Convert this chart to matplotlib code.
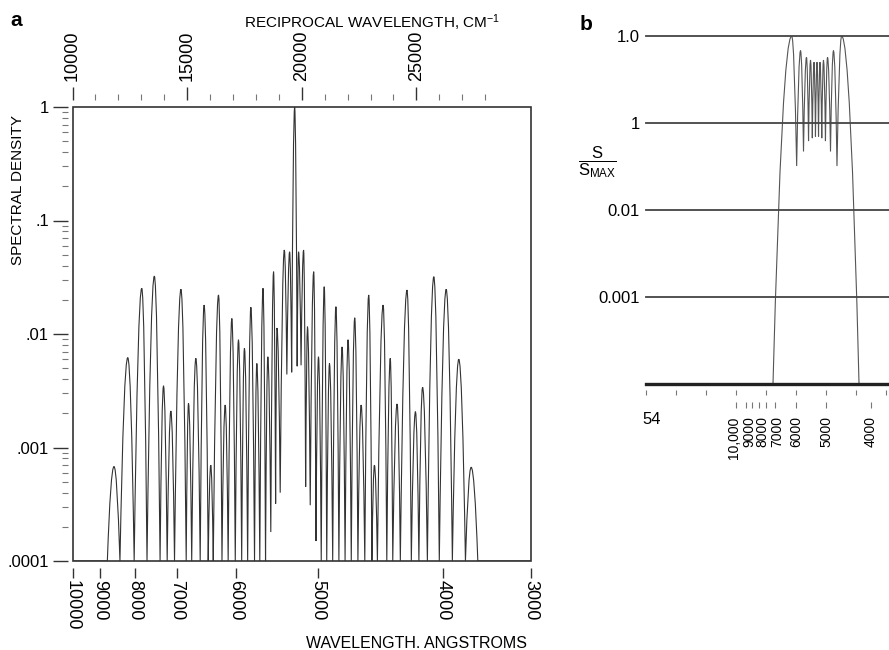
import matplotlib

matplotlib.use("Agg")
import matplotlib.pyplot as plt
from matplotlib.patches import PathPatch, Rectangle
from matplotlib.path import Path
from matplotlib.ticker import NullFormatter, NullLocator
from matplotlib.transforms import ScaledTranslation

plt.rcParams["font.family"] = ["Liberation Sans", "DejaVu Sans"]
plt.rcParams["mathtext.fontset"] = "custom"
plt.rcParams["mathtext.rm"] = "Liberation Sans"
plt.rcParams["mathtext.it"] = "Liberation Sans:italic"
plt.rcParams["mathtext.bf"] = "Liberation Sans:bold"

INK = "#333333"

# ---- panel a: spectral density vs reciprocal wavelength (cm^-1) ----
A_PEAK_WN = [11810, 12410, 13020, 13570, 13970, 14290, 14730, 15060, 15380, 15740,
             16030, 16370, 16660, 16950, 17240, 17500, 17780, 18040, 18310, 18520,
             18770, 18920, 19240, 19470, 19690, 19860, 20080, 20250, 20520, 20730,
             20980, 21210, 21490, 21760, 22020, 22310, 22590, 22920, 23170, 23550,
             23860, 24160, 24590, 24960, 25270, 25760, 26300, 26850, 27390]
A_PEAK_VAL = [6.8e-4, 6.2e-3, 0.0253, 0.0324, 3.5e-3, 2.1e-3, 0.0248, 2.45e-3, 6.1e-3, 0.018,
              7.0e-4, 0.0221, 2.37e-3, 0.0137, 8.9e-3, 7.5e-3, 0.0172, 5.5e-3, 0.0253, 6.3e-3,
              0.0354, 0.0113, 0.055, 0.053, 1.0, 0.053, 0.055, 0.0116, 0.0354, 6.3e-3,
              0.0261, 5.5e-3, 0.0174, 7.7e-3, 8.9e-3, 0.0139, 2.37e-3, 0.0221, 7.0e-4, 0.018,
              6.1e-3, 2.42e-3, 0.0244, 2.07e-3, 3.4e-3, 0.032, 0.0248, 6.0e-3, 6.7e-4]
# zeros / dips between neighbouring lobes
A_EDGE_WN = [11520, 12070, 12690, 13250, 13820, 14130, 14450, 14960, 15200, 15570,
             15920, 16140, 16520, 16790, 17100, 17380, 17640, 17940, 18170, 18420,
             18650, 18860, 19060, 19350, 19560, 19800, 19970, 20170, 20370, 20620,
             20850, 21090, 21350, 21620, 21890, 22160, 22450, 22750, 23060, 23300,
             23710, 23970, 24300, 24780, 25110, 25480, 26000, 26570, 27140, 27680]
A_EDGE_VAL = [1e-4, 1e-4, 1e-4, 1e-4, 1e-4, 1e-4, 1e-4, 1e-4, 1e-4, 1e-4,
              1e-4, 1e-4, 1e-4, 1e-4, 1e-4, 1e-4, 1e-4, 1e-4, 1e-4, 1e-4,
              1.8e-4, 3.2e-4, 4.0e-4, 4.4e-3, 4.6e-3, 5.2e-3, 5.3e-3, 4.5e-4, 3.1e-4, 1.5e-4,
              1e-4, 1e-4, 1e-4, 1e-4, 1e-4, 1e-4, 1e-4, 1e-4, 1e-4, 1e-4,
              1e-4, 1e-4, 1e-4, 1e-4, 1e-4, 1e-4, 1e-4, 1e-4, 1e-4, 1e-4]

A_TOP_MAJOR = [10000, 15000, 20000, 25000]
A_TOP_MINOR = [11000, 12000, 13000, 14000, 16000, 17000, 18000, 19000,
               21000, 22000, 23000, 24000, 26000, 27000, 28000]
A_BOTTOM_LABELS = ["10000", "9000", "8000", "7000", "6000", "5000", "4000", "3000"]
A_BOTTOM_POS = [10000, 11200, 12730, 14550, 17130, 20720, 26170, 30000]
A_Y_TICKS = [1, 0.1, 0.01, 0.001, 0.0001]
A_Y_LABELS = ["1", ".1", ".01", ".001", ".0001"]

# ---- panel b: normalised band-pass spectrum ----
B_PEAK_WN = [16190, 17170, 17830, 18280, 18670, 19000, 19330, 19720, 20170, 20830, 21740]
B_PEAK_VAL = [1.0, 0.68, 0.57, 0.53, 0.50, 0.50, 0.50, 0.53, 0.57, 0.68, 1.0]
B_EDGE_WN = [14110, 16740, 17500, 18060, 18480, 18830, 19170, 19530, 19940, 20500, 21220, 23670]
B_EDGE_VAL = [1e-4, 0.032, 0.047, 0.062, 0.067, 0.07, 0.07, 0.067, 0.062, 0.047, 0.032, 1e-4]
B_LEVELS = [1, 0.1, 0.01, 0.001]
B_LEVEL_LABELS = ["1.0", "1", "0.01", "0.001"]
B_ROW1_WN = [0, 3333, 6667, 10000, 13333, 16667, 20000, 23333, 26667]
B_ROW2_ANGSTROM = [10000, 9000, 8500, 8000, 7500, 7000, 6000, 5000, 4000]
B_ROW2_LABELS = ["10,000", "9000", "", "8000", "", "7000", "6000", "5000", "4000"]
B_ROW2_NUDGE = [-1.5, 2.5, 0, 2.5, 0, 2, 0, 0, 0]  # label shift in points, as printed


def lobe_path(edge_x, edge_y, peak_x, peak_y, x0, x1, floor):
    """Chain of arch-shaped lobes (quadratic Beziers) from zero to zero."""
    verts = [(x0, floor), (edge_x[0], edge_y[0])]
    codes = [Path.MOVETO, Path.LINETO]
    for i, (px, py) in enumerate(zip(peak_x, peak_y)):
        left, right = edge_x[i], edge_x[i + 1]
        verts += [((left + px) / 2, py), (px, py),
                  ((px + right) / 2, py), (right, edge_y[i + 1])]
        codes += [Path.CURVE3] * 4
    verts.append((x1, floor))
    codes.append(Path.LINETO)
    return Path(verts, codes)


W, H = 889, 650
fig = plt.figure(figsize=(W / 100, H / 100), dpi=100)


def box(l, t, r, b):
    return [l / W, 1 - b / H, (r - l) / W, (b - t) / H]


# ---------------- panel a ----------------
ax = fig.add_axes(box(72.5, 107, 531, 561))
ax.set_yscale("log")
ax.set_xlim(10000, 30000)
ax.set_ylim(1e-4, 1)
ax.add_patch(PathPatch(lobe_path(A_EDGE_WN, A_EDGE_VAL, A_PEAK_WN, A_PEAK_VAL,
                                 10000, 30000, 1e-4),
                       fill=False, ec=INK, lw=0.8))
for s in ax.spines.values():
    s.set_visible(False)
ax.add_patch(Rectangle((0, 0), 1, 1, transform=ax.transAxes, fill=False,
                       ec=INK, lw=1.2, clip_on=False, zorder=3))

ax.spines["left"].set_position(("outward", 3.2))
ax.set_yticks(A_Y_TICKS, A_Y_LABELS)
ax.yaxis.set_minor_formatter(NullFormatter())
ax.tick_params(axis="y", which="major", direction="out", length=10.8, width=1.0,
               pad=3, labelsize=12, color=INK)
ax.tick_params(axis="y", which="minor", direction="out", length=4.6, width=0.8, color="#777777")

ax.spines["bottom"].set_position(("outward", 4.8))
ax.set_xticks(A_BOTTOM_POS, A_BOTTOM_LABELS, rotation=-90)
ax.tick_params(axis="x", direction="out", length=7.2, width=1.0, pad=1.5,
               labelsize=13, color=INK)

top = ax.twiny()
top.set_xlim(ax.get_xlim())
for s in top.spines.values():
    s.set_visible(False)
top.spines["top"].set_position(("outward", 5.3))
top.set_xticks(A_TOP_MAJOR, [str(v) for v in A_TOP_MAJOR], rotation=90)
top.set_xticks(A_TOP_MINOR, minor=True)
top.tick_params(axis="x", which="major", direction="out", length=9.1, width=1.0,
                pad=4, labelsize=13, color=INK)
top.tick_params(axis="x", which="minor", direction="out", length=4.3, width=0.8, color="#777777")

fig.text(10 / W, 1 - 20 / H, "a", fontsize=15, fontweight="bold", va="center")
fig.text(500 / W, 1 - 28 / H, "RECIPROCAL WAVELENGTH, CM$^{-1}$", fontsize=11,
         ha="right", va="baseline")
fig.text(527 / W, 1 - 648 / H, "WAVELENGTH. ANGSTROMS", fontsize=11.5,
         ha="right", va="baseline")
fig.text(18 / W, 1 - 190 / H, "SPECTRAL DENSITY", fontsize=11, rotation=90,
         ha="center", va="center")

# ---------------- panel b ----------------
bx = fig.add_axes(box(646, 36, 889, 384))
bx.set_yscale("log")
bx.set_xlim(0, 27000)
bx.set_ylim(1e-4, 1)
for s in bx.spines.values():
    s.set_visible(False)
for lv in B_LEVELS:
    bx.axhline(lv, color="#444444", lw=1.3, clip_on=False)
bx.axhline(1e-4, color="#222222", lw=2.4, clip_on=False)
bx.add_patch(PathPatch(lobe_path(B_EDGE_WN, B_EDGE_VAL, B_PEAK_WN, B_PEAK_VAL,
                                 0, 27000, 1e-4),
                       fill=False, ec="#555555", lw=0.8))
bx.set_yticks(B_LEVELS, B_LEVEL_LABELS)
bx.yaxis.set_minor_locator(NullLocator())
bx.tick_params(axis="y", length=0, pad=4.5, labelsize=12)

bx.spines["bottom"].set_position(("outward", 4.3))
bx.set_xticks(B_ROW1_WN, [""] * len(B_ROW1_WN))
bx.tick_params(axis="x", direction="out", length=3.6, width=0.8, color="#777777")

row2 = bx.secondary_xaxis(-0.052)
row2.spines["bottom"].set_visible(False)
row2.set_xticks([1e8 / a for a in B_ROW2_ANGSTROM], B_ROW2_LABELS, rotation=90)
row2.tick_params(axis="x", direction="out", length=4.3, width=0.8, pad=6,
                 labelsize=10, color="#777777")
for lab, dx in zip(row2.xaxis.get_majorticklabels(), B_ROW2_NUDGE):
    lab.set_transform(lab.get_transform() + ScaledTranslation(dx / 72, 0, fig.dpi_scale_trans))

fig.text(580 / W, 1 - 25 / H, "b", fontsize=15, fontweight="bold", va="center")
fig.text(642 / W, 1 - 419 / H, "54", fontsize=12, ha="left", va="center")
fig.text(597 / W, 1 - 162 / H, r"$\dfrac{\mathrm{S}}{\mathrm{S}_{\mathrm{MAX}}}$",
         fontsize=12, ha="center", va="center")

fig.savefig("out.png", dpi=100, facecolor="white")
